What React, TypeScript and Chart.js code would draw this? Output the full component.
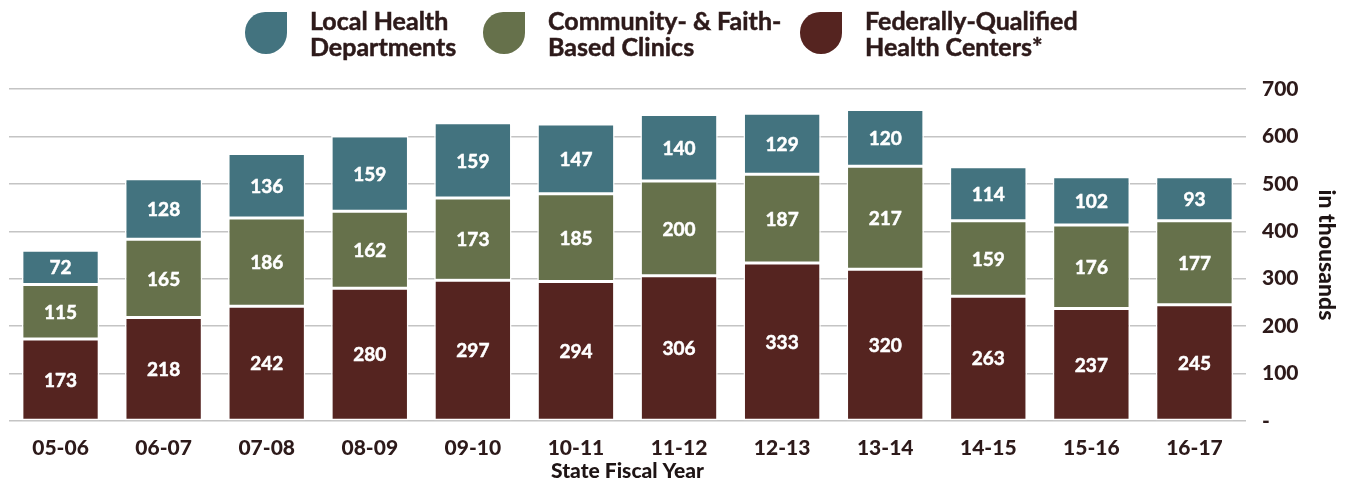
import React, { useEffect, useRef } from "react";
import { Chart, registerables } from "chart.js";

Chart.register(...registerables);

const categories = ["05-06", "06-07", "07-08", "08-09", "09-10", "10-11", "11-12", "12-13", "13-14", "14-15", "15-16", "16-17"];
const localHealth = [72, 128, 136, 159, 159, 147, 140, 129, 120, 114, 102, 93];
const communityFaith = [115, 165, 186, 162, 173, 185, 200, 187, 217, 159, 176, 177];
const federallyQualified = [173, 218, 242, 280, 297, 294, 306, 333, 320, 263, 237, 245];
const yTicks = [0, 100, 200, 300, 400, 500, 600, 700];

const seriesNames = ["Local Health\nDepartments", "Community- & Faith-\nBased Clinics", "Federally-Qualified\nHealth Centers*"];
const colors = ["#43737f", "#66714b", "#552420"];
const textColor = "#2d1a1a";
const FONT = "Lato, 'Open Sans', sans-serif";

const valueLabels = {
  id: "valueLabels",
  afterDatasetsDraw(chart: any) {
    const ctx = chart.ctx;
    ctx.save();
    ctx.fillStyle = "#ffffff";
    ctx.strokeStyle = "#ffffff";
    ctx.lineWidth = 0.5;
    ctx.font = `bold 19px ${FONT}`;
    ctx.textAlign = "center";
    ctx.textBaseline = "middle";
    chart.data.datasets.forEach((ds: any, i: number) => {
      const meta = chart.getDatasetMeta(i);
      meta.data.forEach((el: any, j: number) => {
        const v = ds.data[j];
        const cy = (el.y + el.base) / 2;
        ctx.fillText(String(v), el.x, cy + 1);
        ctx.strokeText(String(v), el.x, cy + 1);
      });
    });
    ctx.restore();
  },
};

const legendLeft = [245, 483, 800];

export default function App() {
  const ref = useRef<HTMLCanvasElement>(null);
  useEffect(() => {
    if (!ref.current) return;
    const chart = new Chart(ref.current, {
      type: "bar",
      data: {
        labels: categories,
        datasets: [
          { label: seriesNames[2], data: federallyQualified, backgroundColor: colors[2] },
          { label: seriesNames[1], data: communityFaith, backgroundColor: colors[1] },
          { label: seriesNames[0], data: localHealth, backgroundColor: colors[0] },
        ].map((d) => ({
          ...d,
          borderColor: "#ffffff",
          borderWidth: 1.5,
          borderSkipped: false,
          barPercentage: 0.75,
          categoryPercentage: 1,
        })),
      },
      plugins: [valueLabels],
      options: {
        animation: false,
        responsive: false,
        maintainAspectRatio: false,
        layout: { padding: { top: 89, left: 9, right: 0, bottom: 0 } },
        plugins: { legend: { display: false }, tooltip: { enabled: false } },
        scales: {
          x: {
            stacked: true,
            grid: { display: false },
            border: { display: false },
            ticks: { color: textColor, font: { family: FONT, size: 21, weight: 900 }, padding: 7, maxRotation: 0 },
            title: {
              display: true,
              text: "State Fiscal Year",
              color: "#1e1414",
              font: { family: FONT, size: 21, weight: 900 },
              padding: { top: 0, bottom: 1 },
            },
            afterFit: (scale: any) => {
              scale.height = 64;
            },
          },
          y: {
            stacked: true,
            position: "right",
            min: 0,
            max: 700,
            afterBuildTicks: (scale: any) => {
              scale.ticks = yTicks.map((v) => ({ value: v }));
            },
            grid: { color: "#c4c4c4", lineWidth: 1.5, drawTicks: false },
            border: { display: false },
            ticks: {
              color: textColor,
              font: { family: FONT, size: 21, weight: 900 },
              padding: 16,
              callback: (v: any) => (Number(v) === 0 ? "-" : String(v)),
            },
            title: {
              display: true,
              text: "in thousands",
              color: "#1e1414",
              font: { family: FONT, size: 23, weight: 900 },
              padding: { top: 6, bottom: 6 },
            },
            afterFit: (scale: any) => {
              scale.width = 100;
            },
          },
        },
      } as any,
    });
    return () => chart.destroy();
  }, []);

  return (
    <div style={{ position: "absolute", left: 0, top: 0, width: 1346, height: 485, background: "#fff", overflow: "hidden" }}>
      <canvas ref={ref} width={1346} height={485} style={{ position: "absolute", left: 0, top: 0, width: 1346, height: 485 }} />
      {seriesNames.map((name, i) => (
        <div key={i} style={{ position: "absolute", left: legendLeft[i], top: 7, display: "flex", alignItems: "center" }}>
          <div
            style={{
              width: 42,
              height: 42,
              background: colors[i],
              borderRadius: "48% 0 50% 50%",
              marginRight: 23,
              flex: "none",
            }}
          />
          <div
            style={{
              fontFamily: FONT,
              fontWeight: 700,
              fontSize: 25,
              lineHeight: "26px",
              color: textColor,
              whiteSpace: "pre",
              WebkitTextStroke: "0.5px " + textColor,
            }}
          >
            {name}
          </div>
        </div>
      ))}
    </div>
  );
}
